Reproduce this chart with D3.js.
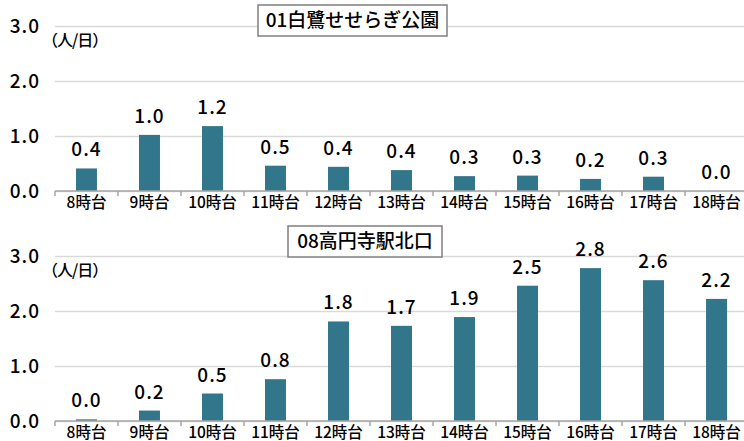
<!DOCTYPE html>
<html>
<head>
<meta charset="utf-8">
<script src="https://cdn.jsdelivr.net/npm/d3@7"></script>
<style>
  body { margin: 0; background: #fff; }
  svg { display: block; font-family: "Noto Sans CJK JP", "Noto Sans", sans-serif; }
</style>
</head>
<body>
<script>
// categories and values (人/日)
let hours = ["8時台","9時台","10時台","11時台","12時台","13時台","14時台","15時台","16時台","17時台","18時台"]
let shirasagi = [0.41, 1.02, 1.18, 0.46, 0.44, 0.38, 0.27, 0.28, 0.22, 0.26, 0]
let koenji = [0.03, 0.19, 0.5, 0.76, 1.81, 1.73, 1.89, 2.46, 2.78, 2.56, 2.22]
let yTicks = [0, 1, 2, 3]
let titles = ["01白鷺せせらぎ公園", "08高円寺駅北口"]
let unit = "（人/日）"

let w = 744, h = 441
let left = 55, right = 748
let barColor = "#31768a"

let svg = d3.select("body").append("svg")
    .attr("width", w)
    .attr("height", h)

let x = d3.scaleBand()
    .domain(hours)
    .range([left, right])
    .paddingInner(0.667)
    .paddingOuter(0.333)
let step = x.step()

function panel(values, title, top, bottom, box) {
    let y = d3.scaleLinear().domain([0, 3]).range([bottom, top])
    let g = svg.append("g")

    // gridlines + y labels
    let yAxis = g.append("g")
        .attr("transform", "translate(" + left + ",0)")
        .call(d3.axisLeft(y).tickValues(yTicks).tickFormat(d3.format(".1f"))
            .tickSize(-(w - left)).tickPadding(15))
    yAxis.select(".domain").remove()
    yAxis.selectAll("line").attr("stroke", "#d9d9d9").attr("stroke-width", 1.5)
    yAxis.selectAll("text").attr("font-size", 19).attr("fill", "#000")
        .attr("font-family", "Noto Sans CJK JP").attr("font-weight", 500)
        .attr("letter-spacing", 1)

    // unit label
    g.append("text")
        .attr("x", 42)
        .attr("y", y(3) + 20)
        .attr("font-size", 16)
        .attr("font-weight", 500)
        .attr("letter-spacing", -1)
        .text(unit)

    // bars
    g.selectAll(".bar")
        .data(values)
        .enter()
        .append("rect")
        .attr("class", "bar")
        .attr("x", (d, i) => x(hours[i]))
        .attr("y", d => y(d))
        .attr("width", x.bandwidth())
        .attr("height", d => y(0) - y(d))
        .attr("fill", barColor)

    // value labels
    g.selectAll(".val")
        .data(values)
        .enter()
        .append("text")
        .attr("class", "val")
        .attr("x", (d, i) => x(hours[i]) + x.bandwidth() / 2)
        .attr("y", d => y(d) - 12)
        .attr("text-anchor", "middle")
        .attr("font-size", 19)
        .attr("font-weight", 500)
        .attr("letter-spacing", 1)
        .text(d => d.toFixed(1))

    // x axis: line, boundary ticks, labels
    g.append("line")
        .attr("x1", left).attr("x2", w)
        .attr("y1", y(0)).attr("y2", y(0))
        .attr("stroke", "#a6a6a6").attr("stroke-width", 1.5)
    let bounds = hours.map(d => x(d) + x.bandwidth() / 2 - step / 2)
    g.selectAll(".tk")
        .data(bounds)
        .enter()
        .append("line")
        .attr("class", "tk")
        .attr("x1", d => d).attr("x2", d => d)
        .attr("y1", y(0)).attr("y2", y(0) + 5)
        .attr("stroke", "#a6a6a6").attr("stroke-width", 1.5)
    let xAxis = g.append("g")
        .attr("transform", "translate(0," + y(0) + ")")
        .call(d3.axisBottom(x).tickSize(0).tickPadding(6))
    xAxis.select(".domain").remove()
    xAxis.selectAll("text").attr("font-size", 15.5).attr("fill", "#000")
        .attr("font-family", "Noto Sans CJK JP").attr("font-weight", 500)

    // title box
    g.append("rect")
        .attr("x", box[0]).attr("y", box[1])
        .attr("width", box[2]).attr("height", box[3])
        .attr("fill", "#fff")
        .attr("stroke", "#7f7f7f").attr("stroke-width", 1.5)
    g.append("text")
        .attr("x", box[0] + box[2] / 2)
        .attr("y", box[1] + box[3] / 2)
        .attr("dy", "0.36em")
        .attr("text-anchor", "middle")
        .attr("font-size", 19)
        .attr("font-weight", 500)
        .text(title)
}

panel(shirasagi, titles[0], 26, 191, [258, 5, 189, 31])
panel(koenji, titles[1], 256, 421, [288, 226, 154, 31])
</script>
</body>
</html>
